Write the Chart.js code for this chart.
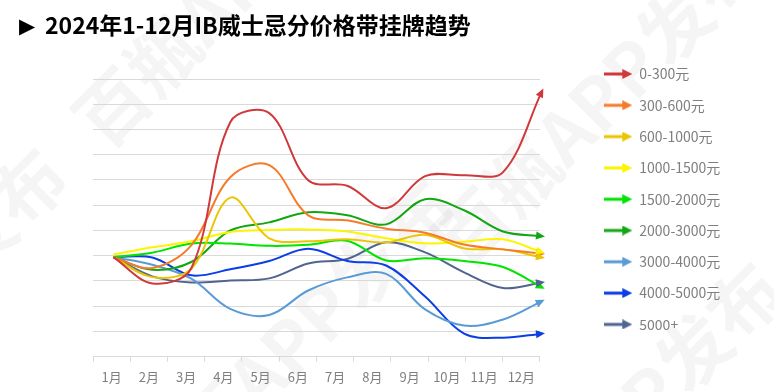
<!DOCTYPE html>
<html>
<head>
<meta charset="utf-8">
<script src="https://cdn.jsdelivr.net/npm/chart.js@4.4.1/dist/chart.umd.min.js"></script>
<style>
  html, body { margin: 0; padding: 0; background: #fff; }
  #wrap { position: relative; width: 774px; height: 392px; overflow: hidden; }
  #title { position: absolute; left: 19px; top: 7px; font: bold 23px "Noto Sans CJK SC", sans-serif; color: #000; white-space: nowrap; z-index: 2; }
  #title .tri { display: inline-block; width: 26px; font: 21px "DejaVu Sans", sans-serif; vertical-align: 1px; }
  .wm { position: absolute; font: bold 72px "Noto Sans CJK SC", sans-serif; line-height: 72px; color: rgba(0, 0, 0, 0.04); transform-origin: 0 50%; transform: rotate(-45deg); white-space: nowrap; z-index: 0; }
  canvas { position: absolute; left: 0; top: 0; z-index: 1; }
</style>
</head>
<body>
<div id="wrap">
  <div class="wm" style="left:84px;top:94px">百瓶APP发布</div>
  <div class="wm" style="left:444px;top:214px">百瓶APP发布</div>
  <div class="wm" style="left:136px;top:458px">百瓶APP发布</div>
  <div class="wm" style="left:463px;top:541px">百瓶APP发布</div>
  <div class="wm" style="left:-253px;top:427px">百瓶APP发布</div>
  <div id="title"><span class="tri">▶</span>2024年1-12月IB威士忌分价格带挂牌趋势</div>
  <canvas id="myChart" width="774" height="392"></canvas>
</div>
<script>
const months = ['1月', '2月', '3月', '4月', '5月', '6月', '7月', '8月', '9月', '10月', '11月', '12月'];
const seriesNames = ['0-300元', '300-600元', '600-1000元', '1000-1500元', '1500-2000元', '2000-3000元', '3000-4000元', '4000-5000元', '5000+'];

// values (no axis labels in the original, one grid step = 10)
const p0_300 = [39.4, 29.0, 35.0, 92.9, 96.5, 69.9, 67.7, 58.8, 71.5, 71.9, 73.1, 105.2];
const p300_600 = [39.4, 35.1, 44.1, 71.1, 75.9, 56.0, 54.0, 50.7, 49.1, 44.4, 42.5, 40.8];
const p600_1000 = [39.4, 31.5, 34.8, 63.0, 46.9, 45.7, 46.5, 45.3, 48.3, 42.9, 42.5, 39.3];
const p1000_1500 = [40.5, 43.3, 45.7, 49.4, 50.2, 50.4, 49.6, 46.9, 44.9, 45.5, 46.5, 41.3];
const p1500_2000 = [39.4, 41.2, 44.8, 44.8, 43.9, 44.3, 45.9, 38.1, 39.0, 37.9, 35.5, 27.4];
const p2000_3000 = [39.4, 34.4, 37.5, 50.0, 53.2, 57.2, 56.0, 52.4, 62.4, 58.0, 49.6, 47.7];
const p3000_4000 = [39.4, 36.4, 30.9, 18.9, 16.5, 26.2, 31.4, 32.8, 18.7, 12.3, 14.7, 22.0];
const p4000_5000 = [39.4, 39.3, 32.2, 34.6, 37.9, 42.7, 37.9, 36.1, 23.8, 9.1, 7.5, 9.1];
const p5000 = [39.4, 31.8, 29.4, 30.2, 31.0, 36.9, 38.7, 45.3, 41.3, 33.4, 27.2, 29.4];

const seriesValues = [p0_300, p300_600, p600_1000, p1000_1500, p1500_2000, p2000_3000, p3000_4000, p4000_5000, p5000];
const colors = ['#d0393b', '#f57b2a', '#eac500', '#fcf400', '#00e400', '#13a613', '#5b9bd5', '#0b3ee6', '#506490'];

const FONT = '"Noto Sans CJK SC", sans-serif';
const LEGEND_LEFT = 587; // legend sits away from the plot, like the original

// arrow icon used in the legend
function arrowIcon(color) {
  const c = document.createElement('canvas');
  c.width = 28;
  c.height = 10;
  const g = c.getContext('2d');
  g.fillStyle = color;
  g.fillRect(0, 3.5, 20, 3);
  g.beginPath();
  g.moveTo(18, 0);
  g.lineTo(28, 5);
  g.lineTo(18, 10);
  g.closePath();
  g.fill();
  return c;
}

// arrow head at the end of every line
const arrowEnds = {
  id: 'arrowEnds',
  afterDatasetsDraw(chart) {
    const ctx = chart.ctx;
    chart.data.datasets.forEach((ds, i) => {
      const pts = chart.getDatasetMeta(i).data;
      const p = pts[pts.length - 1];
      const angle = Math.atan2(p.y - p.cp1y, p.x - p.cp1x);
      ctx.save();
      ctx.translate(p.x, p.y);
      ctx.rotate(angle);
      ctx.fillStyle = ds.borderColor;
      ctx.beginPath();
      ctx.moveTo(3, 0);
      ctx.lineTo(-6, -4);
      ctx.lineTo(-6, 4);
      ctx.closePath();
      ctx.fill();
      ctx.restore();
    });
  },
};

// move the legend box to the right spot after layout
const legendShift = {
  id: 'legendShift',
  afterLayout(chart) {
    const lg = chart.legend;
    const dx = LEGEND_LEFT - lg.left;
    lg.left += dx;
    lg.right += dx;
  },
};

const ctx = document.getElementById('myChart');

const chart = new Chart(ctx, {
  type: 'line',
  data: {
    labels: months,
    datasets: seriesNames.map((name, i) => ({
      label: name,
      data: seriesValues[i].map((v, j) => ({ x: j, y: v })),
      borderColor: colors[i],
      backgroundColor: colors[i],
      borderWidth: 2,
      pointRadius: 0,
      pointHoverRadius: 0,
      pointStyle: arrowIcon(colors[i]),
      tension: 0.35,
      clip: false,
      xAxisID: 'xd',
      yAxisID: 'y',
    })),
  },
  options: {
    responsive: false,
    animation: false,
    layout: {
      padding: { top: 49.7, left: 93, right: 90.7, bottom: 0 },
    },
    elements: {
      line: { capBezierPoints: false },
    },
    scales: {
      x: {
        type: 'category',
        position: 'bottom',
        offset: true,
        grid: { display: true, drawOnChartArea: false, drawTicks: true, tickLength: 5, color: '#d9d9d9', offset: true },
        border: { display: true, color: '#d9d9d9' },
        ticks: { color: '#7f7f7f', font: { size: 13, family: FONT }, padding: 7.4, maxRotation: 0 },
      },
      xd: {
        type: 'linear',
        display: false,
        min: -0.522,
        max: 10.948,
      },
      y: {
        type: 'linear',
        position: 'left',
        min: 0,
        max: 121.64,
        grid: { color: '#d9d9d9', drawTicks: false },
        border: { display: false },
        ticks: { display: false, stepSize: 10 },
        afterBuildTicks: (s) => {
          s.ticks = s.ticks.filter((t) => t.value <= 110);
        },
        afterFit: (s) => {
          s.width = 0;
        },
      },
    },
    plugins: {
      title: { display: false },
      tooltip: { enabled: false },
      legend: {
        position: 'right',
        align: 'start',
        labels: {
          usePointStyle: true,
          pointStyleWidth: 28,
          padding: 17.3,
          color: '#7f7f7f',
          font: { size: 14, family: FONT },
        },
      },
    },
  },
  plugins: [arrowEnds, legendShift],
});
</script>
</body>
</html>
